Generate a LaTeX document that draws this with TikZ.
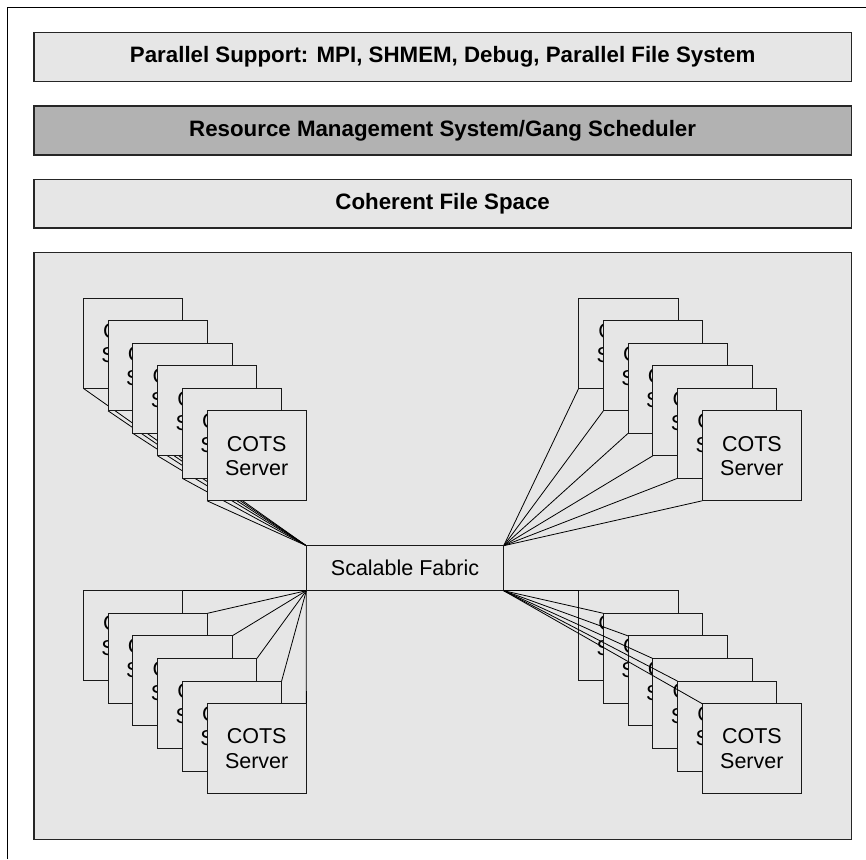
\documentclass[tikz,border=0pt]{standalone}
\usepackage{fontspec}
\setmainfont{Liberation Sans}
\pgfdeclarelayer{bottom}
\pgfdeclarelayer{under}
\pgfsetlayers{bottom,under,main}
\definecolor{lg}{RGB}{230,230,230}
\definecolor{dg}{RGB}{178,178,178}
\begin{document}
\begin{tikzpicture}[x=1pt,y=-1pt,
  bar/.style={draw=black!85, line width=1.2pt, fill=lg, minimum width=817.3pt, minimum height=48.6pt, anchor=north west, inner sep=0pt, outer sep=0pt, font=\fontsize{22.3}{24}\selectfont\bfseries},
  panelbox/.style={draw=black!85, line width=1.2pt, fill=lg, minimum width=817.3pt, minimum height=587pt, anchor=north west, inner sep=0pt, outer sep=0pt},
  srv/.style={draw=black!90, line width=1pt, fill=lg, minimum width=99.3pt, minimum height=90pt, anchor=north west, inner sep=0pt, outer sep=0pt, align=center, font=\fontsize{21.5}{24.3}\selectfont},
  fabbox/.style={draw=black!90, line width=1pt, fill=lg, minimum width=197.4pt, minimum height=45pt, anchor=north west, inner sep=0pt, outer sep=0pt, font=\fontsize{21.5}{24.3}\selectfont},
  link/.style={draw=black, line width=0.8pt}]
\useasboundingbox (0,0) rectangle (866,859);
\draw[line width=1pt] (7,859) -- (7,8) -- (866,8);
\node[bar] (ps) at (34,32.7) {Parallel Support: MPI, SHMEM, Debug, Parallel File System};
\node[bar, fill=dg, minimum height=49pt] (rm) at (34,106) {Resource Management System/Gang Scheduler};
\node[bar, minimum height=48.7pt] (cf) at (34,179.3) {Coherent File Space};
\begin{pgfonlayer}{bottom}
\node[panelbox] (pan) at (34,252.3) {};
\end{pgfonlayer}
\node[fabbox] (fab) at (306.3,545.7) {Scalable Fabric};
\foreach \k in {0,...,5} {
  \node[srv] (tl\k) at ({83.3+24.75*\k},{298.3+22.5*\k}) {COTS\\Server};
}
\foreach \k in {0,...,5} {
  \node[srv] (tr\k) at ({578.7+24.7*\k},{298.3+22.5*\k}) {COTS\\Server};
}
\foreach \k in {0,...,5} {
  \node[srv] (bl\k) at ({83.3+24.75*\k},{590.7+22.6*\k}) {COTS\\Server};
}
\foreach \k in {0,...,5} {
  \node[srv] (br\k) at ({578.7+24.7*\k},{590.7+22.6*\k}) {COTS\\Server};
}
\begin{pgfonlayer}{under}
\foreach \k in {0,...,5} \draw[link] (tl\k.south west) -- (fab.north west);
\foreach \k in {0,...,5} \draw[link] (tr\k.south west) -- (fab.north east);
\foreach \k in {0,...,5} \draw[link] (bl\k.north east) -- (fab.south west);
\end{pgfonlayer}
\foreach \k in {0,...,5} \draw[link] (br\k.north west) -- (fab.south east);
\end{tikzpicture}
\end{document}
